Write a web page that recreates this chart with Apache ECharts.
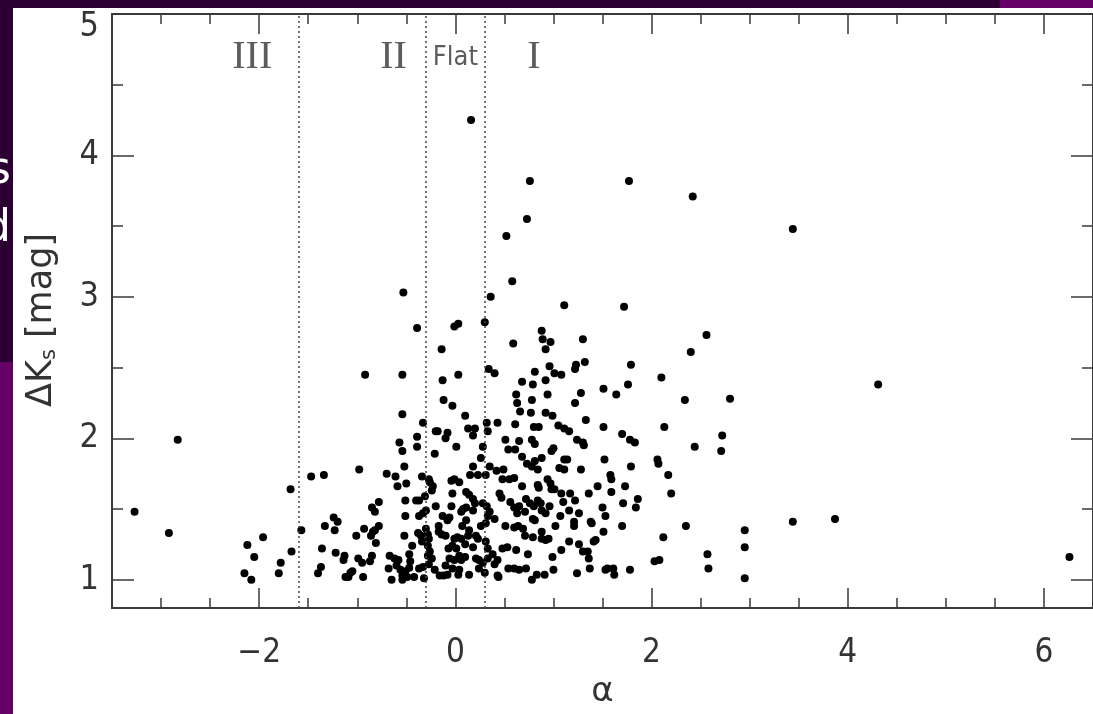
<!DOCTYPE html>
<html><head><meta charset="utf-8">
<script src="https://cdn.jsdelivr.net/npm/echarts@6/dist/echarts.min.js"></script>
<style>html,body{margin:0;padding:0;background:#fff;}#c{width:1093px;height:714px;}</style>
</head><body><div id="c"></div>
<script>
// [alpha, deltaKs] pairs, grouped by SED class
const classIII = [[-3.27,1.48],[-2.92,1.33],[-2.83,1.99],[-2.15,1.045],[-2.12,1.245],[-2.08,1.0],[-2.05,1.16],[-1.96,1.30],[-1.80,1.045],[-1.78,1.12],[-1.67,1.20],[-1.68,1.64]];
const classII = [[-1.57,1.35],[-1.47,1.73],[-1.34,1.74],[-1.40,1.045],[-1.37,1.09],[-1.36,1.22],[-1.33,1.38],[-1.24,1.44],[-1.20,1.41],[-1.23,1.35],[-1.22,1.19],[-1.13,1.17],[-1.14,1.14],[-1.12,1.02],[-1.07,1.05],[-1.05,1.06],[-1.09,1.02],[-0.94,1.02],[-0.99,1.15],[-0.95,1.12],[-1.01,1.31],[-0.93,1.36],[-0.98,1.78],[-0.92,2.45],[-0.87,1.13],[-0.85,1.17],[-0.86,1.31],[-0.84,1.34],[-0.82,1.35],[-0.81,1.26],[-0.78,1.38],[-0.85,1.51],[-0.82,1.48],[-0.78,1.55],[-0.70,1.75],[-0.61,1.73],[-0.59,1.66],[-0.54,2.17],[-0.57,1.97],[-0.54,1.91],[-0.52,1.80],[-0.50,1.68],[-0.51,1.56],[-0.51,1.45],[-0.52,1.31],[-0.67,1.17],[-0.68,1.08],[-0.65,1.0],[-0.62,1.15],[-0.60,1.10],[-0.58,1.14],[-0.56,1.07],[-0.54,1.03],[-0.54,1.0],[-0.51,1.06],[-0.49,1.02],[-0.47,1.085],[-0.47,1.18],[-0.46,1.13],[-0.44,1.24],[-0.42,1.02],[-0.39,2.01],[-0.39,1.94],[-0.33,2.11],[-0.34,1.73],[-0.40,1.56],[-0.37,1.56],[-0.31,1.59],[-0.37,1.45],[-0.33,1.47],[-0.38,1.33],[-0.35,1.31],[-0.34,1.27],[-0.37,1.08],[-0.33,1.09],[-0.32,1.01],[-0.53,3.03],[-0.54,2.45],[-0.39,2.78]];
const classFlat = [[-0.30,1.49],[-0.27,1.71],[-0.26,1.69],[-0.23,1.66],[-0.24,1.63],[-0.20,2.05],[-0.18,2.05],[-0.21,1.89],[-0.20,1.52],[-0.30,1.36],[-0.28,1.32],[-0.27,1.29],[-0.28,1.24],[-0.26,1.20],[-0.28,1.17],[-0.24,1.15],[-0.27,1.11],[-0.21,1.07],[-0.16,1.03],[-0.12,1.03],[-0.08,1.035],[-0.17,1.38],[-0.17,1.34],[-0.14,1.32],[-0.10,1.31],[-0.13,1.45],[-0.08,1.42],[-0.06,1.44],[-0.04,1.52],[-0.03,1.61],[-0.04,1.70],[-0.01,1.71],[0.04,1.69],[-0.12,2.27],[-0.13,2.41],[-0.03,2.23],[0.01,1.94],[-0.08,2.04],[-0.10,2.0],[0.10,2.16],[0.13,2.07],[0.20,2.07],[0.18,2.02],[0.28,1.94],[0.26,1.86],[0.18,1.80],[0.15,1.74],[0.23,1.74],[0.11,1.62],[0.14,1.60],[0.18,1.57],[0.20,1.54],[0.11,1.51],[0.08,1.50],[0.06,1.48],[0.18,1.49],[0.28,1.54],[0.26,1.38],[0.11,1.42],[0.07,1.38],[0.14,1.35],[0.13,1.31],[0.06,1.29],[0.02,1.30],[-0.01,1.29],[-0.03,1.24],[-0.07,1.22],[0.01,1.22],[0.10,1.25],[0.21,1.31],[0.23,1.29],[0.04,1.17],[-0.06,1.15],[-0.01,1.14],[0.06,1.14],[0.10,1.16],[0.18,1.23],[0.21,1.15],[0.24,1.14],[0.28,1.12],[-0.10,1.10],[-0.03,1.08],[0.04,1.07],[0.14,1.035],[0.03,1.035],[0.24,1.08],[0.16,4.25],[-0.14,2.63],[-0.01,2.79],[0.03,2.81],[0.03,2.45]];
const classI = [[0.32,2.11],[0.33,2.05],[0.35,1.80],[0.31,1.74],[0.43,2.11],[0.42,1.77],[0.32,1.52],[0.35,1.48],[0.33,1.45],[0.31,1.40],[0.40,1.43],[0.31,1.27],[0.33,1.22],[0.33,1.15],[0.38,1.18],[0.40,1.11],[0.43,1.14],[0.30,1.05],[0.43,1.03],[0.30,2.82],[0.34,2.49],[0.40,2.46],[0.36,3.00],
[0.68,2.40],[0.79,2.38],[0.92,2.41],[1.51,2.35],[1.76,2.38],[2.10,2.43],[1.28,2.32],[1.64,2.31],[0.62,2.31],[0.63,2.25],[0.78,2.27],[0.94,2.31],[1.22,2.25],[0.66,2.19],[0.77,2.18],[0.92,2.18],[0.99,2.16],[1.33,2.13],[0.61,2.10],[0.80,2.08],[0.85,2.08],[1.05,2.09],[1.11,2.07],[1.16,2.05],[1.51,2.08],[1.70,2.03],[2.13,2.08],[0.51,1.99],[0.65,1.98],[0.78,1.99],[0.81,1.96],[1.24,1.99],[1.30,1.97],[1.31,1.95],[1.78,1.99],[1.83,1.97],[0.54,1.92],[0.61,1.92],[0.68,1.87],[0.98,1.91],[1.00,1.93],[0.73,1.82],[0.81,1.84],[0.88,1.86],[0.78,1.80],[0.84,1.78],[1.11,1.85],[1.14,1.85],[1.06,1.79],[1.11,1.78],[1.28,1.78],[1.52,1.85],[1.79,1.80],[2.06,1.85],[2.07,1.82],[2.17,1.74],[2.20,1.61],[0.49,1.78],[0.48,1.71],[0.55,1.71],[0.60,1.72],[0.68,1.66],[0.84,1.67],[0.85,1.65],[0.94,1.71],[0.97,1.68],[0.98,1.64],[1.01,1.64],[1.08,1.61],[1.17,1.61],[1.36,1.61],[1.45,1.66],[1.58,1.74],[1.59,1.71],[1.73,1.66],[1.86,1.57],[1.71,1.54],[1.84,1.51],[1.59,1.62],[0.45,1.61],[0.47,1.58],[0.56,1.55],[0.60,1.51],[0.65,1.52],[0.72,1.57],[0.76,1.54],[0.80,1.52],[0.84,1.56],[0.87,1.54],[0.88,1.49],[0.63,1.47],[0.71,1.48],[0.79,1.43],[0.81,1.42],[0.92,1.47],[0.96,1.52],[1.07,1.45],[1.10,1.55],[1.16,1.49],[1.22,1.56],[1.26,1.47],[1.21,1.41],[1.21,1.38],[1.02,1.38],[1.38,1.41],[1.39,1.40],[1.50,1.51],[1.53,1.45],[1.51,1.34],[1.70,1.38],[1.41,1.27],[1.43,1.28],[0.79,1.30],[0.88,1.29],[0.92,1.28],[0.95,1.29],[0.88,1.34],[0.71,1.31],[0.69,1.36],[0.64,1.38],[0.60,1.37],[0.51,1.38],[0.48,1.22],[0.53,1.23],[0.62,1.21],[0.74,1.18],[0.99,1.16],[1.08,1.21],[1.16,1.27],[1.26,1.25],[1.30,1.20],[1.35,1.20],[1.36,1.15],[0.54,1.08],[0.60,1.08],[0.65,1.07],[0.72,1.08],[0.78,1.0],[0.83,1.035],[0.91,1.035],[1.00,1.07],[1.24,1.045],[1.37,1.08],[1.53,1.07],[1.55,1.08],[1.61,1.08],[1.62,1.035],[1.78,1.07],[2.03,1.13],[2.08,1.14],[2.12,1.30],[0.44,1.02],
[0.76,3.82],[1.77,3.82],[2.42,3.71],[0.73,3.55],[0.52,3.43],[0.58,3.11],[1.11,2.94],[1.72,2.93],[0.88,2.76],[0.89,2.70],[0.97,2.68],[1.30,2.70],[2.56,2.73],[0.92,2.63],[0.59,2.67],[2.40,2.61],[0.81,2.47],[0.96,2.51],[1.01,2.46],[1.08,2.45],[1.22,2.49],[1.23,2.52],[1.32,2.54],[1.79,2.52],[2.80,2.28],[2.34,2.27],
[2.44,1.94],[2.35,1.38],[2.57,1.18],[2.58,1.08],[2.72,2.02],[2.71,1.91],[2.95,1.35],[2.95,1.23],[2.95,1.01],[3.44,3.48],[3.44,1.41],[3.87,1.43],[4.31,2.38],[6.26,1.16]];

const xMajorTicks = [-2, 0, 2, 4, 6];
const xMinorTicks = [-3, -2.5, -1.5, -1, -0.5, 0.5, 1, 1.5, 2.5, 3, 3.5, 4.5, 5, 5.5];
const yMajorTicks = [1, 2, 3, 4, 5];
const yMinorTicks = [1.5, 2.5, 3.5, 4.5];
const classBoundaries = [-1.6, -0.3, 0.3];
const classLabels = [['III', -2.07, 4.69], ['II', -0.63, 4.69], ['Flat', 0.0, 4.69], ['I', 0.80, 4.69]];

const X_MIN = -3.5, X_MAX = 6.5, Y_MIN = 0.8, Y_MAX = 5;
const AX = '#3a3a3a';
const TXT = '#333333';
const NUM_FONT = 'DejaVu Sans Condensed, DejaVu Sans, sans-serif';

function xAxisDef(position, ticks, len, labels, extra) {
  return Object.assign({
    type: 'value', min: X_MIN, max: X_MAX, position: position,
    axisLine: { show: true, onZero: false, lineStyle: { color: AX, width: 2 } },
    axisTick: { show: true, inside: true, length: len, customValues: ticks, lineStyle: { color: AX, width: 1.5 } },
    axisLabel: labels ? { show: true, customValues: xMajorTicks, margin: 29, fontSize: 33, color: TXT, fontFamily: NUM_FONT,
      formatter: v => (v < 0 ? '\u2212' + Math.abs(v) : String(v)) } : { show: false },
    splitLine: { show: false }
  }, extra || {});
}
function yAxisDef(position, ticks, len, labels, extra) {
  return Object.assign({
    type: 'value', min: Y_MIN, max: Y_MAX, position: position,
    axisLine: { show: true, onZero: false, lineStyle: { color: AX, width: 2 } },
    axisTick: { show: true, inside: true, length: len, customValues: ticks, lineStyle: { color: AX, width: 1.5 } },
    axisLabel: labels ? { show: true, customValues: yMajorTicks, margin: 13, fontSize: 34, color: TXT, fontFamily: NUM_FONT,
      formatter: v => (v === Y_MAX ? '{top|' + v + '}' : String(v)),
      rich: { top: { fontSize: 34, color: TXT, fontFamily: NUM_FONT, padding: [27, 0, 0, 0] } } } : { show: false },
    splitLine: { show: false }
  }, extra || {});
}

const chart = echarts.init(document.getElementById('c'), null, { renderer: 'canvas' });
chart.setOption({
  backgroundColor: '#ffffff',
  animation: false,
  grid: { left: 112, right: -2, top: 14, bottom: 106, containLabel: false },
  xAxis: [
    xAxisDef('bottom', xMajorTicks, 20, true, {
      name: '\u03b1', nameLocation: 'middle', nameGap: 64,
      nameTextStyle: { fontSize: 34, color: TXT, fontFamily: 'DejaVu Sans, sans-serif' }
    }),
    xAxisDef('bottom', xMinorTicks, 10, false),
    xAxisDef('top', xMajorTicks, 20, false),
    xAxisDef('top', xMinorTicks, 10, false)
  ],
  yAxis: [
    yAxisDef('left', yMajorTicks, 22, true, {
      name: '{t|\u0394K}{s|s}{t| [mag]}{g|}', nameLocation: 'middle', nameGap: 52, nameRotate: 90,
      nameTextStyle: { rich: {
        t: { fontSize: 35, color: TXT, fontFamily: 'DejaVu Sans, sans-serif' },
        s: { fontSize: 21, color: TXT, fontFamily: 'DejaVu Sans, sans-serif', padding: [16, 0, 0, 0] },
        g: { width: 18 }
      } }
    }),
    yAxisDef('left', yMinorTicks, 11, false),
    yAxisDef('right', yMajorTicks, 22, false),
    yAxisDef('right', yMinorTicks, 11, false)
  ],
  series: [
    {
      type: 'scatter', xAxisIndex: 0, yAxisIndex: 0,
      symbol: 'circle', symbolSize: 8,
      itemStyle: { color: '#000', opacity: 1 },
      data: [].concat(classIII, classII, classFlat, classI),
      markLine: {
        silent: true, symbol: 'none', animation: false,
        label: { show: false },
        lineStyle: { type: [2, 3], color: '#444', width: 1.5 },
        data: classBoundaries.map(v => ({ xAxis: v }))
      },
      z: 3
    },
    {
      type: 'scatter', xAxisIndex: 0, yAxisIndex: 0, symbolSize: 0, silent: true,
      data: classLabels.map(([t, x, y]) => ({
        name: t, value: [x, y],
        label: t === 'Flat'
          ? { fontSize: 27, fontFamily: NUM_FONT, color: '#333' }
          : { fontSize: 40, fontFamily: 'Liberation Serif, serif', color: '#333' }
      })),
      label: { show: true, position: 'inside', formatter: p => p.name }
    }
  ],
  graphic: [
    { type: 'rect', shape: { x: 0, y: 0, width: 1000, height: 8 }, style: { fill: '#2d0033' }, z: 100 },
    { type: 'rect', shape: { x: 1000, y: 0, width: 93, height: 8 }, style: { fill: '#660066' }, z: 100 },
    { type: 'rect', shape: { x: 0, y: 0, width: 13, height: 362 }, style: { fill: '#2d0033' }, z: 100 },
    { type: 'rect', shape: { x: 0, y: 362, width: 13, height: 352 }, style: { fill: '#660066' }, z: 100 },
    { type: 'text', x: -12, y: 150, style: { text: 's', fontSize: 44, fill: '#ffffff', fontFamily: 'DejaVu Sans, sans-serif' }, z: 101 },
    { type: 'text', x: -17, y: 208, style: { text: 'd', fontSize: 44, fill: '#ffffff', fontFamily: 'DejaVu Sans, sans-serif' }, z: 101 }
  ]
});
</script></body></html>
